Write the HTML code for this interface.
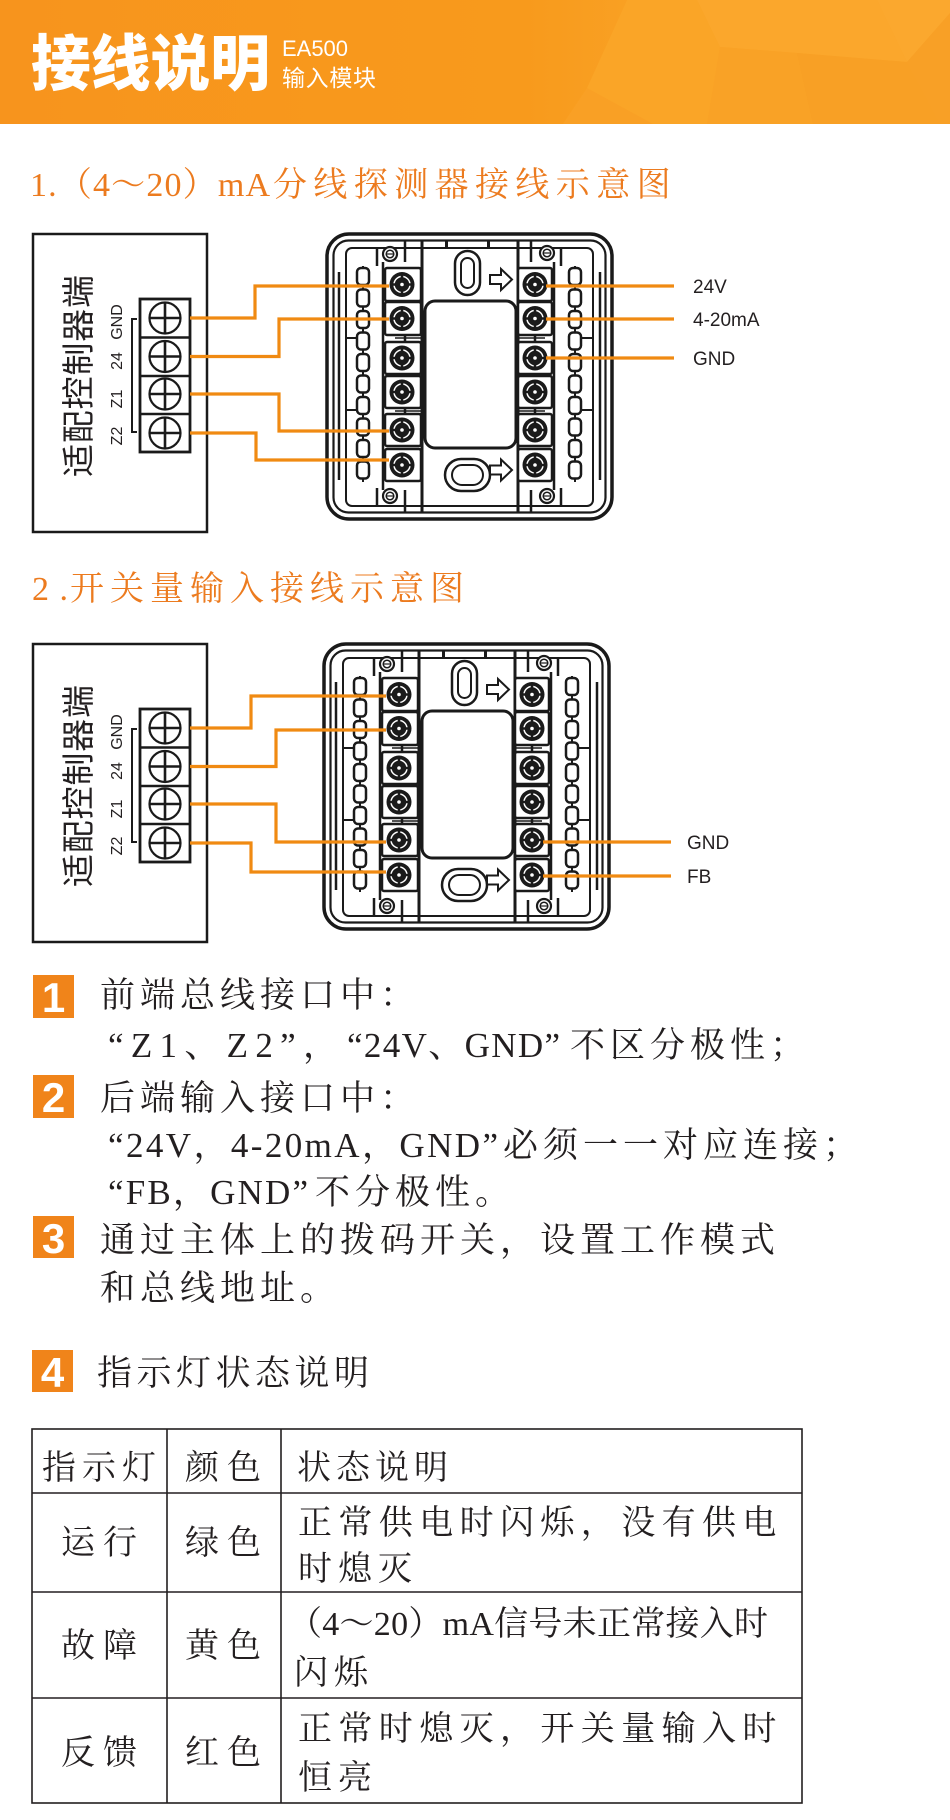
<!DOCTYPE html>
<html><head><meta charset="utf-8">
<style>
html,body{margin:0;padding:0;background:#fff;width:950px;height:1820px;overflow:hidden}
svg{display:block}
</style></head>
<body>
<svg xmlns="http://www.w3.org/2000/svg" xmlns:xlink="http://www.w3.org/1999/xlink" width="950" height="1820" viewBox="0 0 950 1820">
<defs>
 <linearGradient id="hg" x1="0" x2="1" y1="0" y2="0">
  <stop offset="0" stop-color="#f7941d"/>
  <stop offset="0.55" stop-color="#f89a1c"/>
  <stop offset="0.68" stop-color="#f9a124"/>
  <stop offset="1" stop-color="#faa42a"/>
 </linearGradient>
 <g id="sc">
  <circle r="12.5" fill="#1a1a1a" stroke="none"/>
  <circle r="8" fill="none" stroke="#fff" stroke-width="1.5"/>
  <path d="M-11 0H11M0 -11V11" stroke="#1a1a1a" stroke-width="2.6"/>
  <circle r="1.8" fill="#fff" stroke="none"/>
 </g>
 <g id="ss">
  <circle r="7" fill="#fff" stroke="#1a1a1a" stroke-width="2.2"/>
  <circle r="3.8" fill="none" stroke="#1a1a1a" stroke-width="1.5"/>
  <path d="M-3 0H3" stroke="#1a1a1a" stroke-width="1.2"/>
 </g>
 <g id="dev" stroke="#1a1a1a" fill="none">
  <rect x="327" y="234" width="285" height="285" rx="22" stroke-width="3.5" fill="#fff"/>
  <rect x="333.5" y="240.5" width="272" height="272" rx="15" stroke-width="2.2"/>
  <rect x="346" y="248" width="247" height="258" rx="6" stroke-width="2"/>
  <path d="M339 272V480M600 272V480" stroke-width="2.5"/>
  <path d="M422 241V513M518 241V513" stroke-width="3"/>
  <path d="M383 262V490M554 262V490" stroke-width="2.5"/>
  <path d="M377 248V266M405 241V262M377 488V506M405 490V513M531 241V262M561 248V266M531 490V513M561 488V506" stroke-width="2.5"/>
  <!-- chains -->
  <path d="M363 266V482M575 266V482" stroke-width="2"/>
  <g stroke-width="2.5" fill="#fff">
   <rect x="357" y="268" width="12" height="17" rx="4"/>
   <rect x="357" y="289.5" width="12" height="17" rx="4"/>
   <rect x="357" y="311" width="12" height="17" rx="4"/>
   <rect x="357" y="332.5" width="12" height="17" rx="4"/>
   <rect x="357" y="354" width="12" height="17" rx="4"/>
   <rect x="357" y="375.5" width="12" height="17" rx="4"/>
   <rect x="357" y="397" width="12" height="17" rx="4"/>
   <rect x="357" y="418.5" width="12" height="17" rx="4"/>
   <rect x="357" y="440" width="12" height="17" rx="4"/>
   <rect x="357" y="461.5" width="12" height="17" rx="4"/>
   <rect x="569" y="268" width="12" height="17" rx="4"/>
   <rect x="569" y="289.5" width="12" height="17" rx="4"/>
   <rect x="569" y="311" width="12" height="17" rx="4"/>
   <rect x="569" y="332.5" width="12" height="17" rx="4"/>
   <rect x="569" y="354" width="12" height="17" rx="4"/>
   <rect x="569" y="375.5" width="12" height="17" rx="4"/>
   <rect x="569" y="397" width="12" height="17" rx="4"/>
   <rect x="569" y="418.5" width="12" height="17" rx="4"/>
   <rect x="569" y="440" width="12" height="17" rx="4"/>
   <rect x="569" y="461.5" width="12" height="17" rx="4"/>
  </g>
  <path d="M346 338H357M346 410H357M582 338H593M582 410H593" stroke-width="2"/>
  <!-- terminal cells -->
  <g stroke-width="2.5" fill="#fff">
   <rect x="385" y="268" width="36" height="33" rx="2"/>
   <rect x="385" y="302" width="36" height="33" rx="2"/>
   <rect x="385" y="342" width="36" height="32" rx="2"/>
   <rect x="385" y="376" width="36" height="32" rx="2"/>
   <rect x="385" y="414" width="36" height="32" rx="2"/>
   <rect x="385" y="449" width="36" height="32" rx="2"/>
   <rect x="518" y="268" width="34" height="33" rx="2"/>
   <rect x="518" y="302" width="34" height="33" rx="2"/>
   <rect x="518" y="342" width="34" height="32" rx="2"/>
   <rect x="518" y="376" width="34" height="32" rx="2"/>
   <rect x="518" y="414" width="34" height="32" rx="2"/>
   <rect x="518" y="449" width="34" height="32" rx="2"/>
  </g>
  <path d="M405 335V342M405 408V414M535 335V342M535 408V414" stroke-width="2.5"/>
  <path d="M395 338H422M395 411H422M518 338H545M518 411H545" stroke-width="1.5"/>
  <use xlink:href="#sc" x="402" y="284.5"/>
  <use xlink:href="#sc" x="402" y="318.5"/>
  <use xlink:href="#sc" x="402" y="358"/>
  <use xlink:href="#sc" x="402" y="392"/>
  <use xlink:href="#sc" x="402" y="430"/>
  <use xlink:href="#sc" x="402" y="465"/>
  <use xlink:href="#sc" x="535" y="284.5"/>
  <use xlink:href="#sc" x="535" y="318.5"/>
  <use xlink:href="#sc" x="535" y="358"/>
  <use xlink:href="#sc" x="535" y="392"/>
  <use xlink:href="#sc" x="535" y="430"/>
  <use xlink:href="#sc" x="535" y="465"/>
  <!-- center window -->
  <rect x="425" y="301" width="91" height="147" rx="10" stroke-width="3" fill="#fff"/>
  <!-- ovals -->
  <rect x="455" y="251" width="25" height="44" rx="12.5" stroke-width="2.5"/>
  <rect x="461" y="258" width="13" height="30" rx="6.5" stroke-width="2"/>
  <rect x="445" y="459" width="45" height="32" rx="16" stroke-width="2.5"/>
  <rect x="452" y="465" width="31" height="20" rx="10" stroke-width="2"/>
  <!-- arrows -->
  <path d="M490 275H501V269L512 279.5L501 290V284H490Z" stroke-width="2" fill="#fff"/>
  <path d="M490 465.5H501V459.5L512 470L501 480.5V474.5H490Z" stroke-width="2" fill="#fff"/>
  <!-- small screws -->
  <use xlink:href="#ss" x="390" y="254"/>
  <use xlink:href="#ss" x="547" y="253"/>
  <use xlink:href="#ss" x="390" y="496"/>
  <use xlink:href="#ss" x="547" y="496"/>
  <rect x="445" y="241" width="3" height="6" fill="#1a1a1a" stroke="none"/>
  <rect x="487" y="241" width="3" height="6" fill="#1a1a1a" stroke="none"/>
 </g>
 <g id="ctrl">
  <rect x="33" y="234" width="174" height="298" fill="#fff" stroke="#1a1a1a" stroke-width="2.5"/>
  <text transform="translate(90,477) rotate(-90)" font-family="'Liberation Sans','Noto Sans CJK SC',sans-serif" font-size="33" fill="#231f20" textLength="202">适配控制器端</text>
  <g font-family="'Liberation Sans',sans-serif" font-size="16" fill="#231f20" text-anchor="middle">
   <text transform="translate(122,322) rotate(-90)">GND</text>
   <text transform="translate(122,361) rotate(-90)">24</text>
   <text transform="translate(122,399) rotate(-90)">Z1</text>
   <text transform="translate(122,436) rotate(-90)">Z2</text>
  </g>
  <path d="M137 319H132V432H137" fill="none" stroke="#1a1a1a" stroke-width="2"/>
  <rect x="140" y="299" width="50" height="153" fill="#fff" stroke="#1a1a1a" stroke-width="2.8"/>
  <path d="M140 337.5H190M140 376H190M140 414H190" stroke="#1a1a1a" stroke-width="2.5"/>
  <g fill="none" stroke="#1a1a1a" stroke-width="2.2">
   <circle cx="165" cy="318" r="15.5"/>
   <circle cx="165" cy="356.5" r="15.5"/>
   <circle cx="165" cy="394" r="15.5"/>
   <circle cx="165" cy="433" r="15.5"/>
  </g>
  <path d="M149 318H181M165 302.5V333.5M149 356.5H181M165 341V372M149 394H181M165 378.5V409.5M149 433H181M165 417.5V448.5" stroke="#1a1a1a" stroke-width="2.6"/>
 </g>
</defs>

<!-- HEADER -->
<rect x="0" y="0" width="950" height="124" fill="url(#hg)"/>
<polygon points="563,124 587,88 627,0 697,0 720,47 707,124" fill="#faa527"/>
<polygon points="587,88 653,124 563,124" fill="#f9a025"/>
<polygon points="697,0 877,0 907,62 797,53 720,47" fill="#fba72c"/>
<polygon points="720,47 797,53 813,124 707,124" fill="#f9a226"/>
<polygon points="797,53 907,62 940,124 813,124" fill="#f8a025"/>
<polygon points="877,0 950,0 950,13 907,62" fill="#fba82e"/>
<polygon points="907,62 950,13 950,124 940,124" fill="#f8a026"/>
<text x="31" y="85" font-family="'Liberation Sans','Noto Sans CJK SC',sans-serif" font-weight="900" font-size="61" fill="#fff" textLength="239" lengthAdjust="spacingAndGlyphs">接线说明</text>
<text x="282" y="56" font-family="'Liberation Sans',sans-serif" font-size="22" fill="#fff" textLength="66" lengthAdjust="spacingAndGlyphs">EA500</text>
<text x="282" y="86" font-family="'Liberation Sans','Noto Sans CJK SC',sans-serif" font-size="23" fill="#fff" textLength="94">输入模块</text>

<!-- HEADINGS -->
<g font-family="'Liberation Serif','Noto Serif CJK SC',serif" fill="#ec7b1f" font-size="34">
 <text x="30" y="196" textLength="240">1.（4～20）mA</text>
 <text x="273" y="196" letter-spacing="6.4">分线探测器接线示意图</text>
 <text x="32" y="600" textLength="36">2.</text>
 <text x="70" y="600" letter-spacing="6">开关量输入接线示意图</text>
</g>

<!-- DIAGRAM 1 -->
<use xlink:href="#ctrl"/>
<use xlink:href="#dev"/>
<g fill="none" stroke="#f08a12" stroke-width="3.2">
 <path d="M190 318H255V286H389"/>
 <path d="M190 356.5H279V319H389"/>
 <path d="M190 394H279V431H389"/>
 <path d="M190 433H256V460H389"/>
 <path d="M546 286H674"/>
 <path d="M546 319H674"/>
 <path d="M546 358H674"/>
</g>
<g font-family="'Liberation Sans',sans-serif" font-size="19" fill="#231f20">
 <text x="693" y="293">24V</text>
 <text x="693" y="326">4-20mA</text>
 <text x="693" y="365">GND</text>
</g>

<!-- DIAGRAM 2 -->
<use xlink:href="#ctrl" transform="translate(0,410)"/>
<use xlink:href="#dev" transform="translate(-3,410)"/>
<g fill="none" stroke="#f08a12" stroke-width="3.2">
 <path d="M190 728H251V696H386"/>
 <path d="M190 766.5H276V730H386"/>
 <path d="M190 804H276V842H386"/>
 <path d="M190 843H251V872H386"/>
 <path d="M543 842H671"/>
 <path d="M543 876H671"/>
</g>
<g font-family="'Liberation Sans',sans-serif" font-size="19" fill="#231f20">
 <text x="687" y="849">GND</text>
 <text x="687" y="883">FB</text>
</g>

<!-- BADGES -->
<g fill="#f0841a">
 <rect x="33" y="975" width="41" height="43"/>
 <rect x="33" y="1075" width="41" height="43"/>
 <rect x="33" y="1216" width="41" height="42"/>
 <rect x="32" y="1350" width="41" height="42"/>
</g>
<g font-family="'Liberation Sans',sans-serif" font-weight="bold" font-size="42" fill="#fff" text-anchor="middle">
 <text x="53.5" y="1012">1</text>
 <text x="53.5" y="1112">2</text>
 <text x="53.5" y="1253">3</text>
 <text x="52.5" y="1387">4</text>
</g>

<!-- NOTES -->
<g font-family="'Liberation Serif','Noto Serif CJK SC',serif" fill="#231f20" font-size="35">
 <text x="100" y="1007" letter-spacing="5">前端总线接口中：</text>
 <text x="108" y="1057" textLength="230">“Z1、Z2”，</text>
 <text x="347" y="1057" textLength="213">“24V、GND”</text>
 <text x="570" y="1057" letter-spacing="5">不区分极性；</text>
 <text x="100" y="1110" letter-spacing="5">后端输入接口中：</text>
 <text x="108" y="1157" textLength="390">“24V，4-20mA，GND”</text>
 <text x="503" y="1157" letter-spacing="5">必须一一对应连接；</text>
 <text x="108" y="1204" textLength="200">“FB，GND”</text>
 <text x="315" y="1204" letter-spacing="5">不分极性。</text>
 <text x="100" y="1252" letter-spacing="5">通过主体上的拨码开关，设置工作模式</text>
 <text x="100" y="1300" letter-spacing="5">和总线地址。</text>
 <text x="97" y="1385" letter-spacing="4.5">指示灯状态说明</text>
</g>

<!-- TABLE -->
<g stroke="#231f20" stroke-width="1.6" fill="none">
 <rect x="32" y="1429" width="770" height="374"/>
 <path d="M167 1429V1803M281 1429V1803M32 1493H802M32 1592H802M32 1698H802"/>
</g>
<g font-family="'Liberation Serif','Noto Serif CJK SC',serif" fill="#231f20" font-size="34">
 <text x="42" y="1479" letter-spacing="6">指示灯</text>
 <text x="185" y="1479" letter-spacing="8">颜色</text>
 <text x="297" y="1479" letter-spacing="5">状态说明</text>
 <text x="61" y="1554" letter-spacing="8">运行</text>
 <text x="185" y="1554" letter-spacing="8">绿色</text>
 <text x="298" y="1534" letter-spacing="6.4">正常供电时闪烁，没有供电</text>
 <text x="298" y="1580" letter-spacing="6">时熄灭</text>
 <text x="61" y="1657" letter-spacing="8">故障</text>
 <text x="185" y="1657" letter-spacing="8">黄色</text>
 <text x="288" y="1635" textLength="480">（4～20）mA信号未正常接入时</text>
 <text x="294" y="1684" letter-spacing="6">闪烁</text>
 <text x="61" y="1764" letter-spacing="8">反馈</text>
 <text x="185" y="1764" letter-spacing="8">红色</text>
 <text x="298" y="1740" letter-spacing="6.4">正常时熄灭，开关量输入时</text>
 <text x="298" y="1789" letter-spacing="6">恒亮</text>
</g>
</svg>
</body></html>
